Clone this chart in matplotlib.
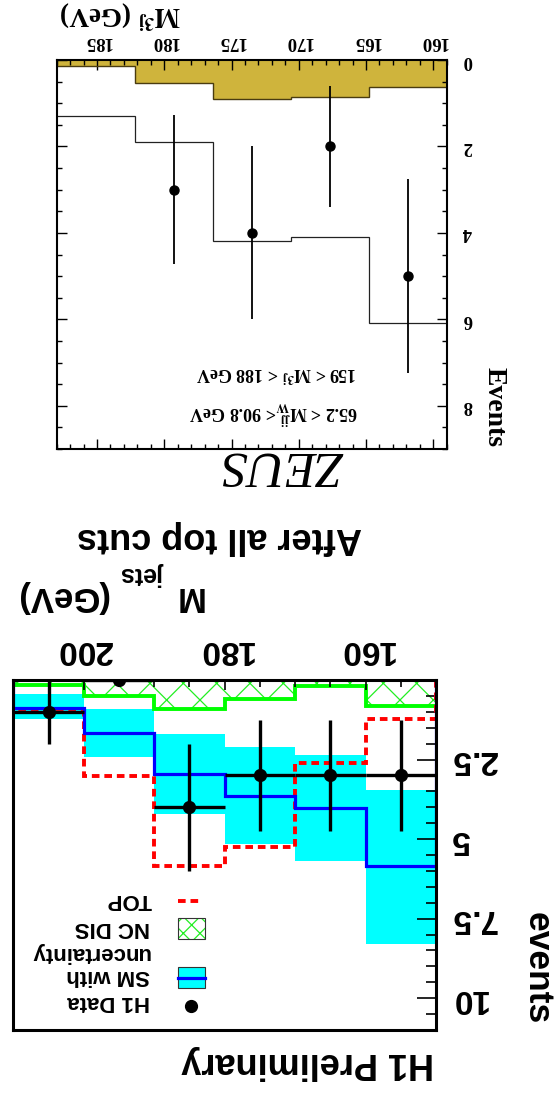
import matplotlib
matplotlib.use("Agg")
import matplotlib.pyplot as plt
from matplotlib.ticker import MultipleLocator
from matplotlib.patches import Rectangle
from matplotlib.lines import Line2D

plt.rcParams['lines.scale_dashes'] = False
plt.rcParams['hatch.linewidth'] = 0.9

W, H = 560, 1094

# ---------------- ZEUS panel data ----------------
zeus_edges = [159.0, 164.8, 170.6, 176.4, 182.2, 188.0]
zeus_sm = [6.08, 4.10, 4.18, 1.89, 1.29]
zeus_bkg = [0.62, 0.86, 0.90, 0.54, 0.15]
zeus_data_x = [161.9, 167.7, 173.5, 179.3]
zeus_data = [5, 2, 4, 3]
zeus_err = [2.24, 1.41, 2.0, 1.73]
zeus_xticks = [160, 165, 170, 175, 180, 185]
zeus_xlabels = ['160', '165', '170', '175', '180', '185']
zeus_yticks = [0, 2, 4, 6, 8]
zeus_ylabels = ['0', '2', '4', '6', '8']

# ---------------- H1 panel data ----------------
h1_edges = [150, 160, 170, 180, 190, 200, 210]
h1_sm = [5.86, 4.02, 3.64, 2.94, 1.68, 0.87]
h1_sm_lo = [3.46, 2.36, 2.12, 1.70, 0.92, 0.44]
h1_sm_hi = [8.29, 5.69, 5.15, 4.22, 2.41, 1.22]
h1_ncdis = [0.82, 0.19, 0.61, 0.92, 0.50, 0.17]
h1_top = [1.23, 2.62, 5.26, 5.83, 3.01, 1.00]
h1_data_x = [155, 165, 175, 185, 195, 205]
h1_data_xerr = [5, 5, 5, 5, 5, 5]
h1_data = [3, 3, 3, 4, 0, 1]
h1_data_err = [1.73, 1.73, 1.73, 2.0, 0.0, 1.0]
h1_xticks = [160, 180, 200]
h1_xlabels = ['160', '180', '200']
h1_yticks = [2.5, 5, 7.5, 10]
h1_ylabels = ['2.5', '5', '7.5', '10']

SERIF = 'Liberation Serif'
SANS = 'Liberation Sans'

fig = plt.figure(figsize=(W / 100, H / 100), dpi=100)


def rect(x0, y0, x1, y1):
    return [x0 / W, 1 - y1 / H, (x1 - x0) / W, (y1 - y0) / H]


def P(x, y):
    return (x / W, 1 - y / H)


def ftext(x, y, s, rot=180, ha='center', **kw):
    fx, fy = P(x, y)
    fig.text(fx, fy, s, rotation=rot, rotation_mode='anchor', ha=ha,
             va='baseline', **kw)


# ======================= ZEUS (upside-down) =======================
ax1 = fig.add_axes(rect(56.7, 60, 446.7, 449))
ax1.set_xlim(188, 159)
ax1.set_ylim(9, 0)
ax1.stairs(zeus_bkg, zeus_edges, fill=True, color='#CFB43C', lw=0, zorder=1)
ax1.stairs(zeus_bkg, zeus_edges, baseline=None, color='#4a3c10', lw=1.0, zorder=2)
ax1.stairs(zeus_sm, zeus_edges, baseline=None, color='#222222', lw=0.9, zorder=2)
ax1.errorbar(zeus_data_x, zeus_data, yerr=zeus_err, fmt='o', color='black',
             ms=6.5, elinewidth=1.3, capsize=0, zorder=3)
for s in ax1.spines.values():
    s.set_linewidth(1.5)
    s.set_zorder(10)
ax1.tick_params(which='both', direction='in', top=True, bottom=True, left=True,
                right=True, labeltop=True, labelbottom=False, labelleft=False,
                labelright=True, width=1.0, color='black')
ax1.tick_params(which='major', length=7)
ax1.tick_params(which='minor', length=3.6)
ax1.tick_params(axis='x', pad=7)
ax1.tick_params(axis='y', pad=11.5)
ax1.set_xticks(zeus_xticks, labels=zeus_xlabels, rotation=180, fontsize=13.5,
               fontfamily=SERIF, fontweight='bold')
ax1.set_yticks(zeus_yticks, labels=zeus_ylabels, rotation=180, fontsize=13.5,
               fontfamily=SERIF, fontweight='bold', va='center')
ax1.xaxis.set_minor_locator(MultipleLocator(1))
ax1.yaxis.set_minor_locator(MultipleLocator(0.5))

ftext(120, 6, r'$\mathbf{M}^{\mathbf{3j}}$ (GeV)', fontsize=19.5, fontfamily=SERIF,
      fontweight='bold', math_fontfamily='stix')
ftext(488, 407.5, 'Events', rot=270, fontsize=20, fontfamily=SERIF, fontweight='bold')
ftext(281.5, 453, 'ZEUS', fontsize=37, fontfamily=SERIF, fontstyle='italic')
ftext(273.5, 406, r'65.2 < $\mathbf{M}^{\mathbf{jj}}_{\mathbf{W}}$< 90.8 GeV',
      fontsize=13, fontfamily=SERIF, fontweight='bold', math_fontfamily='stix')
ftext(276, 367, r'159 < $\mathbf{M}^{\mathbf{3j}}$ < 188 GeV',
      fontsize=13, fontfamily=SERIF, fontweight='bold', math_fontfamily='stix')

# ======================= H1 (upside-down) =======================
ax2 = fig.add_axes(rect(13.3, 680, 436, 1030))
ax2.set_xlim(210, 150)
ax2.set_ylim(11.0, 0)
ax2.stairs(h1_sm_hi, h1_edges, baseline=h1_sm_lo, fill=True, color='#00FFFF',
           lw=0, zorder=1)
ax2.stairs(h1_ncdis, h1_edges, baseline=0, fill=True, facecolor='none',
           edgecolor='#22EE22', hatch='x', lw=0, zorder=1.2)
ax2.stairs(h1_ncdis, h1_edges, baseline=None, color='#00FF00', lw=2.8, zorder=1.5)
ax2.stairs(h1_top, h1_edges, baseline=0, color='#FF0000', lw=2.8,
           linestyle=(0, (5.5, 3.5)), zorder=2)
ax2.stairs(h1_sm, h1_edges, baseline=0, color='#0000FF', lw=2.3, zorder=2.2)
ax2.errorbar(h1_data_x, h1_data, xerr=h1_data_xerr, yerr=h1_data_err, fmt='o',
             color='black', ms=8.5, elinewidth=2.4, capsize=0, zorder=3)
for s in ax2.spines.values():
    s.set_linewidth(2.2)
    s.set_zorder(10)
ax2.tick_params(which='both', direction='in', top=True, bottom=False, left=False,
                right=True, labeltop=True, labelbottom=False, labelleft=False,
                labelright=True, width=1.2, color='black')
ax2.tick_params(axis='x', which='major', length=7, pad=10.5)
ax2.tick_params(axis='x', which='minor', length=5)
ax2.tick_params(axis='y', which='major', length=14, pad=10)
ax2.tick_params(axis='y', which='minor', length=7)
ax2.set_xticks(h1_xticks, labels=h1_xlabels, rotation=180, fontsize=24,
               fontfamily=SANS, fontweight='bold')
ax2.set_yticks(h1_yticks, labels=h1_ylabels, rotation=180, fontsize=24,
               fontfamily=SANS, fontweight='bold', va='center')
ax2.xaxis.set_minor_locator(MultipleLocator(5))
ax2.yaxis.set_minor_locator(MultipleLocator(0.5))

ftext(219.5, 528, 'After all top cuts', fontsize=26, fontfamily=SANS, fontweight='bold')
ftext(188, 587, 'M', fontsize=25, fontfamily=SANS, fontweight='bold')
ftext(142.5, 567, 'jets', fontsize=18, fontfamily=SANS, fontweight='bold')
ftext(61.5, 587, '(GeV)', fontsize=25, fontfamily=SANS, fontweight='bold')
ftext(308, 1053, 'H1 Preliminary', fontsize=26, fontfamily=SANS, fontweight='bold')
ftext(528, 968, 'events', rot=270, fontsize=25.5, fontfamily=SANS, fontweight='bold')

# legend (drawn by hand, upside-down)
LF = dict(fontsize=16, fontfamily=SANS, fontweight='bold')
fig.add_artist(Line2D([P(178, 0)[0], P(200, 0)[0]], [P(0, 901)[1]] * 2,
                      transform=fig.transFigure, color='#FF0000', lw=2.8,
                      linestyle=(0, (5.5, 3.5))))
ftext(152, 894, 'TOP', ha='left', **LF)
fig.add_artist(Rectangle(P(178, 939), 27 / W, 21 / H, transform=fig.transFigure,
                         facecolor='white', edgecolor='#22EE22', hatch='xx', lw=0))
fig.add_artist(Rectangle(P(178, 939), 27 / W, 21 / H, transform=fig.transFigure,
                         facecolor='none', edgecolor='#333333', lw=0.8))
ftext(150, 922, 'NC DIS', ha='left', **LF)
fig.add_artist(Rectangle(P(178, 988), 27 / W, 21 / H, transform=fig.transFigure,
                         facecolor='#00FFFF', edgecolor='#333333', lw=0.8))
fig.add_artist(Line2D([P(178, 0)[0], P(205, 0)[0]], [P(0, 977.5)[1]] * 2,
                      transform=fig.transFigure, color='#0000FF', lw=2.3))
ftext(150, 970, 'SM with', ha='left', **LF)
ftext(150, 947, 'uncertainty', ha='left', **LF)
fig.add_artist(Line2D([P(191, 0)[0]], [P(0, 1006)[1]], transform=fig.transFigure,
                      marker='o', ms=8.5, color='black', lw=0))
ftext(150, 996, 'H1 Data', ha='left', **LF)

fig.savefig('out.png', dpi=100)
